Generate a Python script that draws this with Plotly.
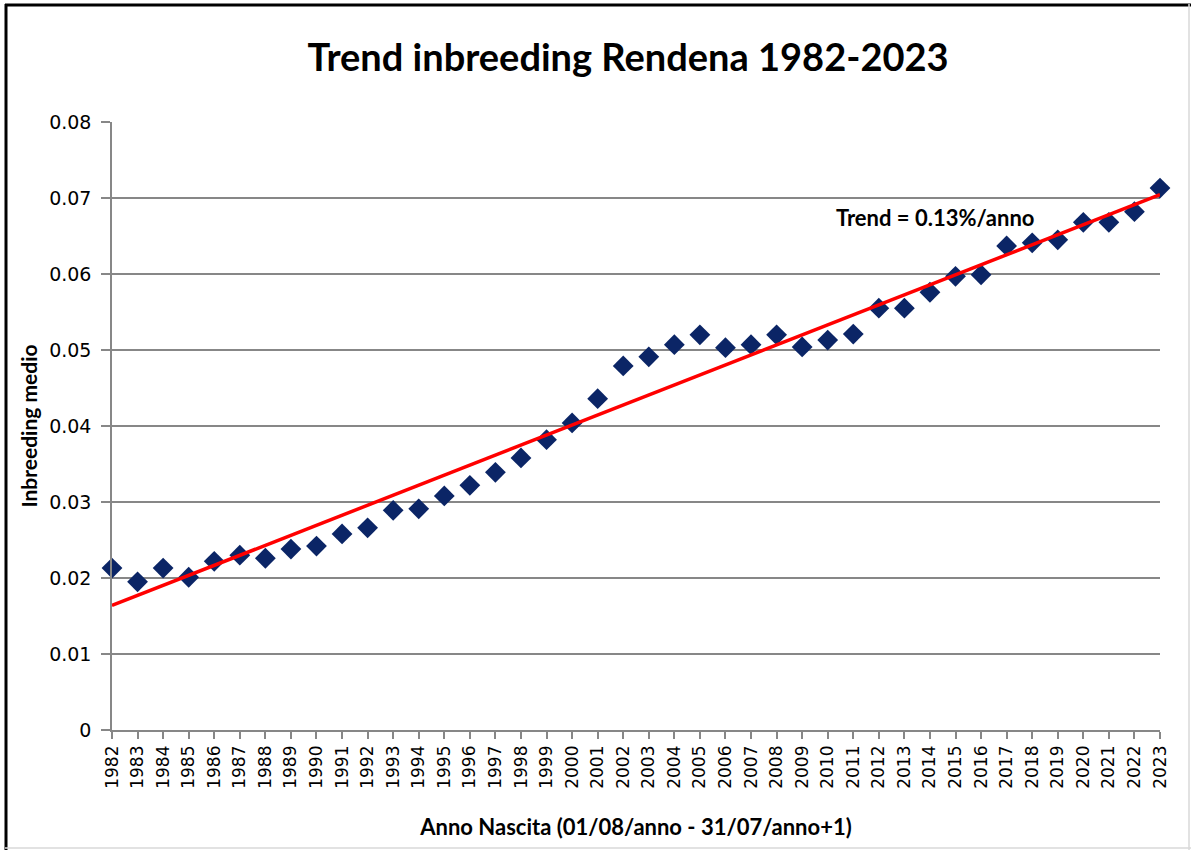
import numpy as np
import plotly.graph_objects as go

years = list(range(1982, 2024))
inbreeding = [0.0213, 0.0195, 0.0213, 0.0201, 0.0222, 0.0230, 0.0226, 0.0238, 0.0242, 0.0258,
              0.0266, 0.0289, 0.0291, 0.0308, 0.0322, 0.0339, 0.0358, 0.0382, 0.0404, 0.0436,
              0.0479, 0.0491, 0.0507, 0.0520, 0.0503, 0.0507, 0.0520, 0.0504, 0.0513, 0.0521,
              0.0555, 0.0555, 0.0576, 0.0597, 0.0599, 0.0637, 0.0641, 0.0645, 0.0668, 0.0668,
              0.0682, 0.0713]
y_ticks = [0, 0.01, 0.02, 0.03, 0.04, 0.05, 0.06, 0.07, 0.08]
y_tick_labels = ["0", "0.01", "0.02", "0.03", "0.04", "0.05", "0.06", "0.07", "0.08"]
title_text = "Trend inbreeding Rendena 1982-2023"
x_title = "Anno Nascita (01/08/anno - 31/07/anno+1)"
y_title = "Inbreeding medio"
trend_label = "Trend = 0.13%/anno"

slope, intercept = np.polyfit(years, inbreeding, 1)
trend = [slope * y + intercept for y in years]

FONT = "Lato"
TICKFONT = "DejaVu Sans, Verdana, sans-serif"
W, H = 1191, 850
L, R, T, B = 112, 31, 122, 120

fig = go.Figure()
fig.add_trace(go.Scatter(x=years, y=inbreeding, mode="markers",
                         marker=dict(symbol="diamond", size=16, color="#0B2566",
                                     line=dict(width=0)),
                         showlegend=False, cliponaxis=False))
fig.add_trace(go.Scatter(x=[years[0], years[-1]], y=[trend[0], trend[-1]], mode="lines",
                         line=dict(color="#FF0000", width=3.5), showlegend=False))

fig.update_layout(
    width=W, height=H,
    margin=dict(l=L, r=R, t=T, b=B),
    paper_bgcolor="white", plot_bgcolor="white",
    title=dict(text="<b>" + title_text + "</b>", x=628 / W, xanchor="center",
               y=1 - 58 / H, yanchor="middle",
               font=dict(family=FONT, size=38, color="black")),
    font=dict(family=FONT, color="black"),
)
fig.update_xaxes(range=[1982, 2023], tickmode="array", tickvals=years,
                 ticktext=[str(y) for y in years], tickangle=-90,
                 tickfont=dict(family=TICKFONT, size=17, color="black"),
                 showgrid=False, showline=True, linecolor="#878787", linewidth=1.5,
                 ticks="outside", ticklen=7, tickcolor="#878787", tickwidth=1.5,
                 zeroline=False,
                 title=dict(text="<b>" + x_title + "</b>", font=dict(family=FONT, size=22),
                            standoff=32))
fig.update_yaxes(range=[0, 0.08], tickvals=y_ticks, ticktext=y_tick_labels,
                 tickfont=dict(family=TICKFONT, size=19, color="black"),
                 showgrid=True, gridcolor="#878787", gridwidth=1.5,
                 showline=True, linecolor="#878787", linewidth=1.5,
                 ticks="outside", ticklen=9, tickcolor="#878787", tickwidth=1.5,
                 ticklabelstandoff=6,
                 zeroline=False,
                 title=dict(text="<b>" + y_title + "</b>", font=dict(family=FONT, size=21),
                            standoff=6))

fig.add_annotation(x=2014.2, y=0.0674, text="<b>" + trend_label + "</b>", showarrow=False,
                   font=dict(family=FONT, size=22, color="black"))

# outer frame
pw = W - L - R
ph = H - T - B
def px(x):
    return (x - L) / pw
def py(y):
    return (H - B - y) / ph
fig.add_shape(type="line", xref="paper", yref="paper", x0=px(6), x1=px(6), y0=py(4), y1=py(850),
              line=dict(color="black", width=3))
fig.add_shape(type="line", xref="paper", yref="paper", x0=px(5), x1=px(1191), y0=py(5), y1=py(5),
              line=dict(color="black", width=3))
fig.add_shape(type="line", xref="paper", yref="paper", x0=px(1189), x1=px(1189), y0=py(4), y1=py(850),
              line=dict(color="#D9D9D9", width=1.5))
fig.add_shape(type="line", xref="paper", yref="paper", x0=px(5), x1=px(1191), y0=py(848), y1=py(848),
              line=dict(color="#D9D9D9", width=1.5))

fig.write_html("out.html", config={"displayModeBar": False},
               post_script="document.body.style.margin='0';document.body.style.overflow='hidden';")
